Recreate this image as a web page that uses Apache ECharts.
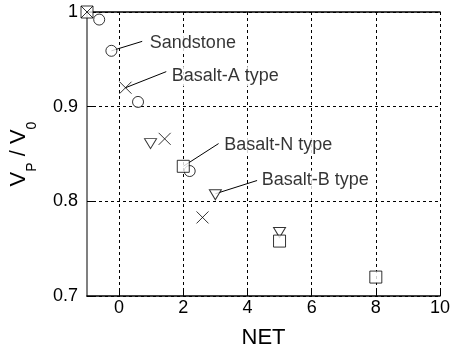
<!DOCTYPE html>
<html>
<head>
<meta charset="utf-8">
<script src="https://cdn.jsdelivr.net/npm/echarts@6/dist/echarts.min.js"></script>
<style>
  html, body { margin: 0; padding: 0; background: #fff; }
  #chart { width: 451px; height: 352px; }
</style>
</head>
<body>
<div id="chart"></div>
<script>
// NET vs Vp/V0
const xTicks = [0, 2, 4, 6, 8, 10];
const sandstone = [[-0.62, 0.992], [-0.24, 0.959], [0.59, 0.905], [2.2, 0.832]];
const basaltA = [[-1, 1.0], [0.2, 0.92], [1.42, 0.866], [2.6, 0.783]];
const basaltB = [[0.98, 0.861], [3.0, 0.807], [5.0, 0.767]];
const basaltN = [[-1, 1.0], [2.0, 0.837], [5.0, 0.758], [8.0, 0.72]];

// annotations: text start and leader line ends, in data units
const labelNames = ["Sandstone", "Basalt-A type", "Basalt-N type", "Basalt-B type"];
const labelPos = [[0.88, 0.967], [1.56, 0.932], [3.2, 0.859], [4.37, 0.822]];
const leaderFrom = [[-0.24, 0.959], [0.2, 0.92], [2.0, 0.837], [3.0, 0.808]];
const leaderTo = [[0.72, 0.969], [1.47, 0.937], [3.1, 0.861], [4.3, 0.822]];

const font = "Liberation Sans";
const chart = echarts.init(document.getElementById("chart"));

const markerStyle = {
  color: "#fff",
  borderColor: "#000",
  borderWidth: 1
};

const option = {
  animation: false,
  grid: { left: 87, right: 11, top: 12, bottom: 56, outerBoundsMode: "none" },
  xAxis: [
    {
      type: "value",
      min: -1,
      max: 10,
      name: "NET",
      nameLocation: "middle",
      nameGap: 31,
      nameTextStyle: { fontFamily: font, fontSize: 22, color: "#000" },
      axisLine: { lineStyle: { color: "#000", width: 1.5 } },
      axisTick: { inside: true, length: 5, customValues: xTicks, lineStyle: { color: "#000" } },
      axisLabel: { customValues: xTicks, margin: 3, fontFamily: font, fontSize: 18, color: "#000" },
      splitLine: { show: true, lineStyle: { color: "#000", type: [3, 3], width: 1 } }
    },
    {
      type: "value",
      position: "top",
      min: -1,
      max: 10,
      axisLine: { show: true, onZero: false, lineStyle: { color: "#000", width: 1.5 } },
      axisTick: { show: false },
      axisLabel: { show: false },
      splitLine: { show: false }
    }
  ],
  yAxis: {
    type: "value",
    min: 0.7,
    max: 1.0,
    interval: 0.1,
    name: "{v|V}{s|P}{v| / V}{s|0}",
    nameLocation: "middle",
    nameGap: 48,
    nameTextStyle: {
      color: "#000",
      rich: {
        v: { fontFamily: font, fontSize: 22, color: "#000", verticalAlign: "bottom", padding: [0, 0, 9, 0] },
        s: { fontFamily: font, fontSize: 14, color: "#000", verticalAlign: "bottom" }
      }
    },
    axisLine: { show: true, onZero: false, lineStyle: { color: "#808080", width: 2 } },
    axisTick: { inside: true, length: 6, lineStyle: { color: "#000" } },
    axisLabel: { margin: 9, fontFamily: font, fontSize: 18, color: "#000" },
    splitLine: { show: true, lineStyle: { color: "#000", type: [3, 3], width: 1 } }
  },
  series: [
    {
      name: "leaders",
      type: "lines",
      coordinateSystem: "cartesian2d",
      z: 1,
      lineStyle: { color: "#000", width: 1, opacity: 1 },
      data: leaderFrom.map((p, i) => ({ coords: [p, leaderTo[i]] }))
    },
    {
      name: "Sandstone",
      type: "scatter",
      clip: false,
      z: 3,
      symbol: "circle",
      symbolSize: 11,
      itemStyle: markerStyle,
      data: sandstone
    },
    {
      name: "Basalt-A type",
      type: "scatter",
      clip: false,
      z: 4,
      symbol: "path://M0,0L10,10M10,0L0,10",
      symbolSize: 12,
      itemStyle: { color: "none", borderColor: "#000", borderWidth: 1 },
      data: basaltA
    },
    {
      name: "Basalt-B type",
      type: "scatter",
      clip: false,
      z: 3,
      symbol: "triangle",
      symbolRotate: 180,
      symbolSize: [12, 10],
      itemStyle: markerStyle,
      data: basaltB
    },
    {
      name: "Basalt-N type",
      type: "scatter",
      clip: false,
      z: 3,
      symbol: "rect",
      symbolSize: 12,
      itemStyle: markerStyle,
      data: basaltN
    },
    {
      name: "labels",
      type: "scatter",
      symbolSize: 1,
      z: 5,
      itemStyle: { color: "rgba(0,0,0,0)" },
      label: {
        show: true,
        position: "right",
        distance: 0,
        fontFamily: font,
        fontSize: 18,
        color: "#000",
        backgroundColor: "#fff",
        padding: [1, 2],
        formatter: (p) => labelNames[p.dataIndex]
      },
      data: labelPos
    }
  ]
};

chart.setOption(option);
</script>
</body>
</html>
